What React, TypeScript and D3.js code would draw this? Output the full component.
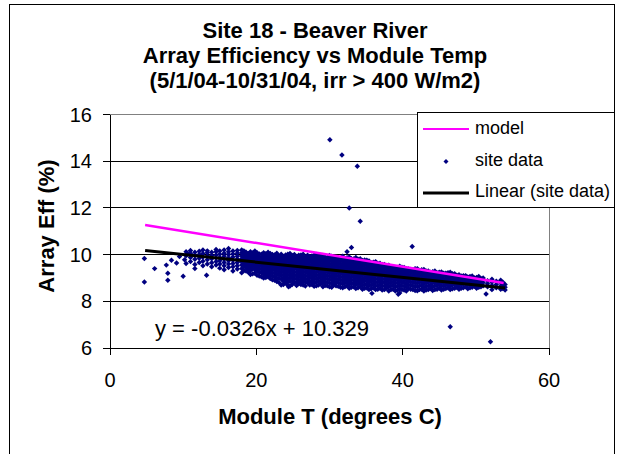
import React from 'react';
import * as d3 from 'd3';

// ---- data ----
const xTicks = [0, 20, 40, 60];
const yTicks = [6, 8, 10, 12, 14, 16];

// model line (start / end)
const modelT = [4.8, 53.8];
const modelEff = [11.27, 8.78];

// linear trendline shown on chart
const fitSlope = -0.0326;
const fitIntercept = 10.329;
const fitT = [4.8, 54];

// sparse points at low temperatures
const leftPoints: [number, number][] = [
  [4.7, 9.83], [4.7, 8.83], [6.1, 9.4], [7.7, 9.55], [7.9, 9.2], [7.9, 8.9],
  [8.4, 9.76], [9.1, 9.64], [9.5, 9.92], [10.0, 9.07], [10.2, 9.78], [11.6, 9.4],
  [13.2, 9.12], [10.6, 10.05],
];

// outliers
const outliers: [number, number][] = [
  [30.05, 14.92], [31.7, 14.27], [33.8, 13.78], [32.7, 12.0], [34.2, 11.43],
  [33.0, 10.3], [32.4, 10.12], [41.3, 10.35], [46.5, 6.91], [52.0, 6.27],
  [51.4, 8.31], [35.8, 8.34], [39.4, 8.3], [39.6, 8.36], [24.4, 8.62],
];

// dense cloud, listed by temperature column
const cloudColumns: [number, number[]][] = [
  [10.4, [9.62, 9.95, 10.12]],
  [11.0, [9.7, 9.88, 10.05, 10.18]],
  [11.6, [9.58, 9.8, 9.97, 10.1]],
  [12.2, [9.66, 9.84, 10.0, 10.14]],
  [12.7, [9.52, 9.72, 9.9, 10.05, 10.2]],
  [13.3, [9.6, 9.78, 9.93, 10.08, 10.16]],
  [13.9, [9.48, 9.65, 9.82, 9.96, 10.1]],
  [14.5, [9.55, 9.7, 9.85, 9.98, 10.12, 10.22]],
  [15.0, [9.42, 9.6, 9.74, 9.88, 10.02, 10.15]],
  [15.6, [9.35, 9.52, 9.66, 9.8, 9.93, 10.06, 10.2]],
  [16.2, [9.45, 9.6, 9.74, 9.87, 10.0, 10.12, 10.26]],
  [16.8, [9.3, 9.48, 9.62, 9.76, 9.9, 10.03, 10.15]],
  [17.4, [9.38, 9.52, 9.66, 9.8, 9.93, 10.06, 10.18]],
  [18.0, [9.22, 9.4, 9.55, 9.68, 9.82, 9.95, 10.08, 10.2]],
  [18.6, [9.3, 9.45, 9.59, 9.72, 9.85, 9.98, 10.1]],
  [19.2, [9.15, 9.32, 9.46, 9.6, 9.73, 9.86, 9.99, 10.12]],
  [19.8, [9.2, 9.35, 9.5, 9.63, 9.76, 9.89, 10.02, 10.15]],
  [20.4, [9.08, 9.24, 9.38, 9.52, 9.65, 9.78, 9.9, 10.03]],
  [21.0, [9.0, 9.16, 9.3, 9.44, 9.57, 9.7, 9.83, 9.96, 10.08]],
  [21.6, [9.05, 9.2, 9.34, 9.48, 9.61, 9.74, 9.86, 9.98, 10.1]],
  [22.2, [8.92, 9.08, 9.22, 9.36, 9.5, 9.63, 9.76, 9.88, 10.0]],
  [22.8, [8.85, 9.0, 9.15, 9.3, 9.44, 9.57, 9.7, 9.82, 9.95, 10.06]],
  [23.4, [8.7, 8.95, 9.1, 9.24, 9.38, 9.52, 9.65, 9.78, 9.9, 10.02]],
  [24.0, [8.78, 8.92, 9.06, 9.2, 9.34, 9.47, 9.6, 9.73, 9.86, 9.98]],
  [24.6, [8.65, 8.85, 9.0, 9.14, 9.28, 9.42, 9.55, 9.68, 9.8, 9.93, 10.05]],
  [25.2, [8.8, 8.95, 9.1, 9.24, 9.38, 9.51, 9.64, 9.77, 9.9, 10.0]],
  [25.8, [8.75, 8.9, 9.05, 9.19, 9.33, 9.46, 9.59, 9.72, 9.85, 9.97]],
  [26.4, [8.7, 8.86, 9.0, 9.14, 9.28, 9.42, 9.55, 9.68, 9.8, 9.92, 10.02]],
  [27.0, [8.78, 8.93, 9.07, 9.21, 9.35, 9.48, 9.61, 9.74, 9.86, 9.97]],
  [27.6, [8.72, 8.87, 9.02, 9.16, 9.3, 9.43, 9.56, 9.69, 9.82, 9.94]],
  [28.2, [8.66, 8.82, 8.97, 9.11, 9.25, 9.39, 9.52, 9.65, 9.78, 9.9, 10.0]],
  [28.8, [8.74, 8.89, 9.03, 9.17, 9.31, 9.45, 9.58, 9.71, 9.83, 9.95]],
  [29.4, [8.68, 8.84, 8.98, 9.12, 9.26, 9.4, 9.53, 9.66, 9.78, 9.9]],
  [30.0, [8.62, 8.78, 8.93, 9.07, 9.21, 9.35, 9.48, 9.61, 9.74, 9.86, 9.96]],
  [30.6, [8.7, 8.85, 8.99, 9.13, 9.27, 9.41, 9.54, 9.67, 9.79, 9.9]],
  [31.2, [8.64, 8.8, 8.94, 9.08, 9.22, 9.36, 9.49, 9.62, 9.74, 9.86]],
  [31.8, [8.58, 8.74, 8.89, 9.03, 9.17, 9.31, 9.44, 9.57, 9.7, 9.82, 9.93]],
  [32.4, [8.66, 8.81, 8.95, 9.09, 9.23, 9.37, 9.5, 9.63, 9.75, 9.87]],
  [33.0, [8.6, 8.76, 8.9, 9.04, 9.18, 9.32, 9.45, 9.58, 9.7, 9.82]],
  [33.6, [8.55, 8.72, 8.86, 9.0, 9.14, 9.28, 9.41, 9.54, 9.66, 9.78, 9.88]],
  [34.2, [8.62, 8.78, 8.92, 9.06, 9.2, 9.33, 9.46, 9.59, 9.71, 9.82]],
  [34.8, [8.56, 8.72, 8.87, 9.01, 9.15, 9.28, 9.41, 9.54, 9.66, 9.77]],
  [35.4, [8.5, 8.68, 8.83, 8.97, 9.11, 9.24, 9.37, 9.5, 9.62, 9.73]],
  [36.0, [8.58, 8.74, 8.88, 9.02, 9.16, 9.29, 9.42, 9.55, 9.67]],
  [36.6, [8.52, 8.68, 8.83, 8.97, 9.11, 9.24, 9.37, 9.5, 9.62]],
  [37.2, [8.48, 8.65, 8.8, 8.94, 9.08, 9.21, 9.34, 9.47, 9.58]],
  [37.8, [8.56, 8.72, 8.87, 9.01, 9.14, 9.27, 9.4, 9.52]],
  [38.4, [8.5, 8.66, 8.81, 8.95, 9.09, 9.22, 9.35, 9.48]],
  [39.0, [8.44, 8.62, 8.77, 8.91, 9.05, 9.18, 9.31, 9.43]],
  [39.6, [8.54, 8.7, 8.85, 8.99, 9.12, 9.25, 9.38, 9.5]],
  [40.2, [8.48, 8.65, 8.8, 8.94, 9.07, 9.2, 9.33, 9.45]],
  [40.8, [8.55, 8.71, 8.86, 9.0, 9.13, 9.26, 9.38]],
  [41.4, [8.5, 8.66, 8.81, 8.95, 9.08, 9.21, 9.34]],
  [42.0, [8.45, 8.62, 8.77, 8.91, 9.04, 9.17, 9.3, 9.4]],
  [42.6, [8.52, 8.68, 8.83, 8.97, 9.1, 9.23, 9.35]],
  [43.2, [8.48, 8.64, 8.79, 8.93, 9.06, 9.19, 9.3]],
  [43.8, [8.55, 8.7, 8.85, 8.98, 9.11, 9.24]],
  [44.4, [8.5, 8.66, 8.81, 8.94, 9.07, 9.2, 9.3]],
  [45.0, [8.56, 8.72, 8.86, 8.99, 9.12, 9.24]],
  [45.6, [8.52, 8.68, 8.82, 8.95, 9.08, 9.2]],
  [46.2, [8.58, 8.73, 8.87, 9.0, 9.12, 9.22]],
  [46.8, [8.54, 8.7, 8.84, 8.97, 9.09, 9.18]],
  [47.4, [8.6, 8.75, 8.89, 9.01, 9.12]],
  [48.0, [8.56, 8.72, 8.86, 8.98, 9.08]],
  [48.6, [8.62, 8.77, 8.9, 9.02, 9.1]],
  [49.2, [8.58, 8.73, 8.86, 8.97, 9.06]],
  [49.8, [8.64, 8.78, 8.9, 9.0]],
  [50.4, [8.6, 8.74, 8.86, 8.96, 9.06]],
  [51.0, [8.66, 8.8, 8.92, 9.0]],
  [51.6, [8.62, 8.75, 8.88]],
  [52.2, [8.5, 8.68, 8.82, 8.94]],
  [52.8, [8.58, 8.72, 8.86]],
  [53.4, [8.52, 8.64, 8.78, 8.9]],
  [54.0, [8.48, 8.6, 8.72]],
];

// second pass of readings in between the columns above
const cloudColumnsB: [number, number[]][] = [
  [18.3, [9.31, 9.48, 9.62, 9.76, 9.9, 10.04, 10.16]],
  [18.9, [9.24, 9.38, 9.52, 9.66, 9.8, 9.93, 10.05]],
  [19.5, [9.18, 9.4, 9.54, 9.68, 9.81, 9.94, 10.07]],
  [20.1, [9.12, 9.3, 9.45, 9.58, 9.71, 9.84, 9.97, 10.08]],
  [20.7, [9.05, 9.22, 9.37, 9.5, 9.63, 9.76, 9.89, 10.02]],
  [21.3, [9.02, 9.1, 9.24, 9.38, 9.51, 9.64, 9.77, 9.9, 10.04]],
  [21.9, [8.98, 9.12, 9.27, 9.41, 9.55, 9.68, 9.8, 9.93, 10.05]],
  [22.5, [8.9, 9.05, 9.2, 9.34, 9.47, 9.6, 9.73, 9.86, 9.98]],
  [23.1, [8.8, 8.98, 9.13, 9.27, 9.41, 9.54, 9.67, 9.8, 9.93]],
  [23.7, [8.72, 8.86, 9.0, 9.14, 9.28, 9.41, 9.54, 9.67, 9.8, 9.92]],
  [24.3, [8.7, 8.85, 8.99, 9.13, 9.27, 9.4, 9.53, 9.66, 9.79, 9.92, 10.02]],
  [24.9, [8.72, 8.88, 9.03, 9.17, 9.31, 9.45, 9.58, 9.71, 9.84, 9.96]],
  [25.5, [8.68, 8.83, 8.98, 9.12, 9.26, 9.4, 9.53, 9.66, 9.79, 9.92]],
  [26.1, [8.72, 8.8, 8.94, 9.08, 9.22, 9.36, 9.49, 9.62, 9.75, 9.87, 9.98]],
  [26.7, [8.65, 8.82, 8.96, 9.1, 9.24, 9.38, 9.51, 9.64, 9.77, 9.9]],
  [27.3, [8.7, 8.85, 9.0, 9.14, 9.28, 9.42, 9.55, 9.68, 9.8, 9.92]],
  [27.9, [8.64, 8.79, 8.94, 9.08, 9.22, 9.36, 9.49, 9.62, 9.75, 9.87, 9.97]],
  [28.5, [8.7, 8.85, 9.0, 9.14, 9.28, 9.41, 9.54, 9.67, 9.8, 9.92]],
  [29.1, [8.62, 8.78, 8.93, 9.07, 9.21, 9.35, 9.48, 9.61, 9.74, 9.86, 9.96]],
  [29.7, [8.66, 8.81, 8.96, 9.1, 9.24, 9.37, 9.5, 9.63, 9.76, 9.88]],
  [30.3, [8.6, 8.76, 8.91, 9.05, 9.19, 9.32, 9.45, 9.58, 9.71, 9.83, 9.93]],
  [30.9, [8.66, 8.8, 8.95, 9.09, 9.23, 9.36, 9.49, 9.62, 9.75, 9.86]],
  [31.5, [8.6, 8.76, 8.91, 9.05, 9.19, 9.33, 9.46, 9.59, 9.72, 9.84]],
  [32.1, [8.62, 8.78, 8.92, 9.06, 9.2, 9.34, 9.47, 9.6, 9.72, 9.84]],
  [32.7, [8.56, 8.72, 8.87, 9.01, 9.15, 9.29, 9.42, 9.55, 9.67, 9.79, 9.9]],
  [33.3, [8.62, 8.77, 8.92, 9.06, 9.2, 9.33, 9.46, 9.58, 9.7, 9.81]],
  [33.9, [8.58, 8.74, 8.89, 9.03, 9.17, 9.3, 9.43, 9.56, 9.68, 9.8]],
  [34.5, [8.52, 8.68, 8.83, 8.97, 9.11, 9.25, 9.38, 9.51, 9.63, 9.75]],
  [35.1, [8.58, 8.74, 8.89, 9.03, 9.17, 9.3, 9.43, 9.55, 9.67, 9.76]],
  [35.7, [8.54, 8.7, 8.85, 8.99, 9.13, 9.26, 9.39, 9.52, 9.64]],
  [36.3, [8.5, 8.66, 8.81, 8.95, 9.09, 9.22, 9.35, 9.48, 9.6, 9.7]],
  [36.9, [8.56, 8.72, 8.86, 9.0, 9.14, 9.27, 9.4, 9.52, 9.63]],
  [37.5, [8.5, 8.66, 8.82, 8.96, 9.1, 9.23, 9.36, 9.48, 9.58]],
  [38.1, [8.44, 8.62, 8.77, 8.91, 9.05, 9.18, 9.31, 9.43, 9.54]],
  [38.7, [8.52, 8.68, 8.83, 8.97, 9.1, 9.23, 9.36, 9.47]],
  [39.3, [8.48, 8.64, 8.79, 8.93, 9.06, 9.19, 9.32, 9.45]],
  [39.9, [8.5, 8.66, 8.81, 8.95, 9.08, 9.21, 9.34, 9.46]],
  [40.5, [8.44, 8.6, 8.76, 8.9, 9.03, 9.16, 9.29, 9.4]],
  [41.1, [8.52, 8.68, 8.83, 8.97, 9.1, 9.23, 9.36]],
  [41.7, [8.46, 8.62, 8.78, 8.92, 9.05, 9.18, 9.3, 9.4]],
  [42.3, [8.5, 8.66, 8.81, 8.95, 9.08, 9.2, 9.32]],
  [42.9, [8.44, 8.6, 8.76, 8.9, 9.03, 9.16, 9.28, 9.36]],
  [43.5, [8.5, 8.66, 8.81, 8.95, 9.08, 9.2, 9.3]],
  [44.1, [8.46, 8.62, 8.78, 8.91, 9.04, 9.16, 9.27]],
  [44.7, [8.52, 8.68, 8.83, 8.96, 9.09, 9.21]],
  [45.3, [8.48, 8.64, 8.79, 8.93, 9.05, 9.17, 9.26]],
  [45.9, [8.55, 8.7, 8.84, 8.97, 9.1, 9.2]],
  [46.5, [8.5, 8.66, 8.8, 8.93, 9.05, 9.16, 9.24]],
  [47.1, [8.56, 8.72, 8.86, 8.98, 9.1, 9.18]],
  [47.7, [8.52, 8.68, 8.82, 8.94, 9.05, 9.14]],
  [48.3, [8.58, 8.74, 8.87, 8.99, 9.09]],
  [48.9, [8.54, 8.7, 8.83, 8.95, 9.04]],
  [49.5, [8.6, 8.75, 8.88, 8.99, 9.08]],
  [50.1, [8.56, 8.7, 8.83, 8.94, 9.02]],
  [50.7, [8.62, 8.76, 8.88, 8.98]],
  [53.7, [8.55, 8.68, 8.82]],
];

const titleLines = [
  'Site 18 - Beaver River',
  'Array Efficiency vs Module Temp',
  '(5/1/04-10/31/04, irr > 400 W/m2)',
];

const W = 619;
const H = 454;
const font = '"Liberation Sans", Arial, sans-serif';

export default function App() {
  const x = d3.scaleLinear().domain([0, 60]).range([110, 549]);
  const y = d3.scaleLinear().domain([6, 16]).range([348, 114.5]);

  const fromColumns = (cols: [number, number[]][]) =>
    cols.flatMap(([t, effs]) => effs.map((e) => [t, e] as [number, number]));

  const sitePoints: [number, number][] = [
    ...leftPoints,
    ...fromColumns(cloudColumns),
    ...fromColumns(cloudColumnsB),
    ...outliers,
  ];

  // square-on-point marker, like Excel's diamond
  const diamond = d3.symbol(d3.symbolDiamond2, 19)()!;
  const line = d3
    .line<[number, number]>()
    .x((d) => x(d[0]))
    .y((d) => y(d[1]));

  const modelPts = modelT.map((t, i) => [t, modelEff[i]] as [number, number]);
  const fitPts = fitT.map((t) => [t, fitSlope * t + fitIntercept] as [number, number]);

  const [x0, x1] = x.range();
  const [yb, yt] = y.range();

  return (
    <div style={{ position: 'absolute', left: 0, top: 0 }}>
      <svg width={W} height={H} style={{ display: 'block' }} fontFamily={font}>
        <rect x={0} y={0} width={W} height={H} fill="#fff" />
        <rect x={9.5} y={4.5} width={605} height={470} fill="none" stroke="#000" strokeWidth={1} />

        {titleLines.map((t, i) => (
          <text key={i} x={315} y={38 + i * 25} textAnchor="middle" fontSize={22} fontWeight="bold">
            {t}
          </text>
        ))}

        {/* gridlines */}
        <g shapeRendering="crispEdges">
          {yTicks.slice(1).map((v) => (
            <line key={v} x1={x0} x2={x1} y1={y(v)} y2={y(v)} stroke="#000" strokeWidth={1} />
          ))}
          <line x1={x1} x2={x1} y1={yt} y2={yb} stroke="#808080" />
          <line x1={x0} x2={x1} y1={yt} y2={yt} stroke="#808080" />
        </g>

        {/* site data */}
        <g fill="#000080">
          {sitePoints.map((d, i) => (
            <path key={i} d={diamond} transform={`translate(${x(d[0])},${y(d[1])})`} />
          ))}
        </g>

        <path d={line(modelPts)!} fill="none" stroke="#FF00FF" strokeWidth={2.5} />
        <path d={line(fitPts)!} fill="none" stroke="#000" strokeWidth={3} />

        <text x={155} y={336} fontSize={22}>
          y = -0.0326x + 10.329
        </text>

        {/* axes */}
        <g shapeRendering="crispEdges" stroke="#000">
          <line x1={x0} x2={x0} y1={yt} y2={yb + 6} />
          <line x1={x0 - 6} x2={x1} y1={yb} y2={yb} />
          {yTicks.map((v) => (
            <line key={v} x1={x0 - 7} x2={x0} y1={y(v)} y2={y(v)} />
          ))}
          {xTicks.map((v) => (
            <line key={v} x1={x(v)} x2={x(v)} y1={yb} y2={yb + 7} />
          ))}
        </g>
        {yTicks.map((v) => (
          <text key={v} x={92} y={y(v) + 7} textAnchor="end" fontSize={20}>
            {v}
          </text>
        ))}
        {xTicks.map((v) => (
          <text key={v} x={x(v)} y={386.5} textAnchor="middle" fontSize={20}>
            {v}
          </text>
        ))}

        <text x={330} y={424} textAnchor="middle" fontSize={22} fontWeight="bold">
          Module T (degrees C)
        </text>
        <text
          transform={`translate(54,226) rotate(-90)`}
          textAnchor="middle"
          fontSize={22}
          fontWeight="bold"
        >
          Array Eff (%)
        </text>

        {/* legend */}
        <g>
          <rect x={417.5} y={112.5} width={197} height={95} fill="#fff" stroke="#000" shapeRendering="crispEdges" />
          <line x1={423} x2={469} y1={129} y2={129} stroke="#FF00FF" strokeWidth={2} />
          <text x={475} y={134} fontSize={18}>model</text>
          <path d={d3.symbol(d3.symbolDiamond2, 16)()!} transform="translate(446,161.5)" fill="#000080" />
          <text x={475} y={165.5} fontSize={18}>site data</text>
          <line x1={423} x2={469} y1={193} y2={193} stroke="#000" strokeWidth={3} />
          <text x={475} y={197} fontSize={18}>Linear (site data)</text>
        </g>
      </svg>
    </div>
  );
}
